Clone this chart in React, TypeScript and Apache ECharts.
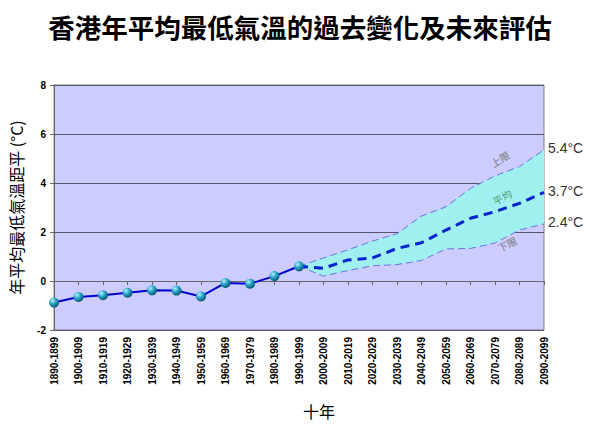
import React, { useEffect, useRef } from "react";
import * as echarts from "echarts";

const CATEGORIES = [
  "1890-1899", "1900-1909", "1910-1919", "1920-1929", "1930-1939", "1940-1949",
  "1950-1959", "1960-1969", "1970-1979", "1980-1989", "1990-1999", "2000-2009",
  "2010-2019", "2020-2029", "2030-2039", "2040-2049", "2050-2059", "2060-2069",
  "2070-2079", "2080-2089", "2090-2099",
];

const PAST = [-0.88, -0.65, -0.58, -0.48, -0.38, -0.39, -0.63, -0.08, -0.11, 0.2, 0.6];
const MEAN = [0.6, 0.52, 0.86, 0.94, 1.33, 1.56, 2.08, 2.56, 2.83, 3.17, 3.62];
const UPPER = [0.6, 0.94, 1.27, 1.63, 1.93, 2.65, 3.03, 3.78, 4.29, 4.67, 5.35];
const LOWER = [0.6, 0.2, 0.43, 0.62, 0.67, 0.84, 1.31, 1.33, 1.55, 2.08, 2.33];
const END_LABELS = ["5.4°C", "3.7°C", "2.4°C"];
const LINE_NAMES = ["上限", "平均", "下限"];
const Y_TICKS = { min: -2, max: 8, interval: 2 };

const TITLE = "香港年平均最低氣溫的過去變化及未來評估";
const Y_NAME = "年平均最低氣溫距平 (°C)";
const X_NAME = "十年";

const CJK = "'Noto Sans CJK TC', 'Noto Sans CJK SC', sans-serif";
const ARIAL = "'Liberation Sans', Arial, sans-serif";

export default function App() {
  const ref = useRef<HTMLDivElement>(null);

  useEffect(() => {
    if (!ref.current) return;
    const chart = echarts.init(ref.current, null, { renderer: "svg" });
    const startIdx = PAST.length - 1;
    const pad = (arr: number[]) => [...Array(startIdx).fill(null), ...arr];
    const pastData = [...PAST, ...Array(CATEGORIES.length - PAST.length).fill(null)];
    const diff = UPPER.map((u, i) => +(u - LOWER[i]).toFixed(3));

    const endLabel = (text: string, dy: number) => ({
      show: true,
      formatter: text,
      distance: 4,
      offset: [0, dy],
      fontSize: 14,
      fontFamily: ARIAL,
      color: "#333",
    });

    const inline = (text: string, x: number, y: number, rot: number, fill: string) => ({
      type: "text",
      x,
      y,
      rotation: rot,
      style: {
        text,
        fontSize: 10,
        fontFamily: CJK,
        fill,
        align: "center",
        verticalAlign: "middle",
      },
      z: 10,
    });

    chart.setOption({
      animation: false,
      backgroundColor: "#ffffff",
      title: {
        text: TITLE,
        left: "center",
        top: 8,
        textStyle: { fontFamily: CJK, fontSize: 26.5, fontWeight: "bold", color: "#000" },
      },
      grid: {
        left: 52,
        right: 56,
        top: 85,
        bottom: 105,
        show: true,
        backgroundColor: "#ccccff",
        borderColor: "#808080",
        borderWidth: 1,
      },
      xAxis: {
        type: "category",
        data: CATEGORIES,
        boundaryGap: false,
        name: X_NAME,
        nameLocation: "middle",
        nameGap: 73,
        nameTextStyle: { fontFamily: CJK, fontSize: 16, color: "#000", padding: [0, 0, 0, 40] },
        axisLine: { lineStyle: { color: "#666", width: 1 } },
        axisTick: { show: true, length: 4, lineStyle: { color: "#666" } },
        axisLabel: {
          rotate: 90,
          interval: 0,
          margin: 7,
          fontSize: 10,
          fontWeight: "bold",
          fontFamily: ARIAL,
          color: "#000",
        },
        splitLine: { show: false },
      },
      yAxis: {
        type: "value",
        min: Y_TICKS.min,
        max: Y_TICKS.max,
        interval: Y_TICKS.interval,
        name: Y_NAME,
        nameLocation: "middle",
        nameGap: 30,
        nameTextStyle: { fontFamily: CJK, fontSize: 16, color: "#000" },
        axisLine: { show: true, lineStyle: { color: "#666", width: 1 } },
        axisTick: { show: true, length: 4, lineStyle: { color: "#666" } },
        axisLabel: { margin: 8, fontSize: 10, fontWeight: "bold", fontFamily: ARIAL, color: "#000" },
        splitLine: { show: true, lineStyle: { color: "#55556a", width: 1 } },
      },
      series: [
        {
          name: "base",
          type: "line",
          data: pad(LOWER),
          stack: "band",
          symbol: "none",
          lineStyle: { opacity: 0 },
          silent: true,
          z: 1,
        },
        {
          name: "band",
          type: "line",
          data: pad(diff),
          stack: "band",
          symbol: "none",
          lineStyle: { opacity: 0 },
          areaStyle: { color: "#a0f0f0", opacity: 1 },
          silent: true,
          z: 1,
        },
        {
          name: LINE_NAMES[0],
          type: "line",
          data: pad(UPPER),
          symbol: "none",
          lineStyle: { color: "#6677dd", width: 1, type: [7, 4] },
          endLabel: endLabel(END_LABELS[0], -2),
          z: 3,
        },
        {
          name: LINE_NAMES[2],
          type: "line",
          data: pad(LOWER),
          symbol: "none",
          lineStyle: { color: "#6677dd", width: 1, type: [7, 4] },
          endLabel: endLabel(END_LABELS[2], -2),
          z: 3,
        },
        {
          name: LINE_NAMES[1],
          type: "line",
          data: pad(MEAN),
          symbol: "none",
          lineStyle: { color: "#0022cc", width: 3, type: [9, 6] },
          endLabel: endLabel(END_LABELS[1], -1),
          z: 4,
        },
        {
          name: "past",
          type: "line",
          data: pastData,
          symbol: "circle",
          symbolSize: 10,
          lineStyle: { color: "#0000cc", width: 2 },
          itemStyle: {
            color: {
              type: "radial",
              x: 0.35,
              y: 0.3,
              r: 0.75,
              colorStops: [
                { offset: 0, color: "#b8f4ff" },
                { offset: 0.45, color: "#2aa6c8" },
                { offset: 1, color: "#05506a" },
              ],
            },
            borderWidth: 0,
          },
          z: 5,
        },
      ],
      graphic: [
        inline(LINE_NAMES[0], 500, 159, 0.55, "#777"),
        inline(LINE_NAMES[1], 502, 197, 0.5, "#4a9a70"),
        inline(LINE_NAMES[2], 507, 244, 0.45, "#777"),
      ],
    });
    return () => chart.dispose();
  }, []);

  return (
    <div
      ref={ref}
      style={{ position: "absolute", left: 0, top: 0, width: 600, height: 435 }}
    />
  );
}
